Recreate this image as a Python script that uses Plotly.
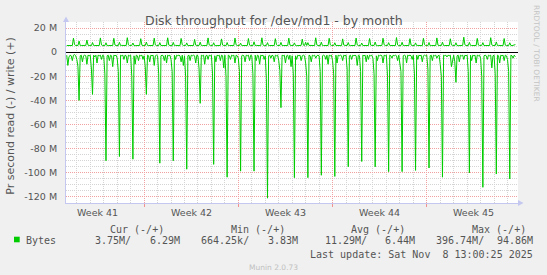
import plotly.graph_objects as go
import pandas as pd

# ---------------- data (values in M = 10^6 bytes per second) ----------------
# 2-hour samples starting 2025-10-06 06:00; each row = one day (06:00 .. 04:00 next day)
read_rows = [
    [-2.5, -11, -4, -2.5, -3, -7, -2.5, -2, -3, -6, -12, -40],
    [-3, -2.5, -8, -3, -2.5, -3, -10, -2.5, -3, -2.5, -14, -35],
    [-2.5, -4, -2.5, -9, -2.5, -3, -2.5, -6, -2.5, -3, -18, -90],
    [-3, -2.5, -7, -2.5, -3, -12, -2.5, -3, -2.5, -5, -16, -86.5],
    [-2.5, -3, -2.5, -6, -2.5, -3, -9, -2.5, -3, -2.5, -20, -88.7],
    [-3, -10, -2.5, -3, -7, -2.5, -3, -2.5, -6, -3, -12, -35],
    [-2.5, -3, -8, -2.5, -3, -2.5, -11, -3, -2.5, -3, -18, -92],
    [-3, -2.5, -3, -7, -2.5, -9, -2.5, -3, -2.5, -6, -16, -90],
    [-2.5, -6, -2.5, -3, -2.5, -3, -8, -2.5, -11, -3, -20, -97],
    [-3, -2.5, -7, -2.5, -3, -2.5, -3, -9, -2.5, -3, -14, -42.4],
    [-2.5, -3, -2.5, -10, -3, -2.5, -6, -2.5, -3, -2.5, -18, -93],
    [-3, -8, -2.5, -3, -2.5, -7, -2.5, -3, -13, -2.5, -20, -103.6],
    [-2.5, -3, -6, -2.5, -3, -2.5, -9, -2.5, -3, -5, -16, -98.6],
    [-3, -2.5, -3, -8, -2.5, -3, -2.5, -7, -2.5, -3, -18, -98.6],
    [-2.5, -7, -2.5, -3, -10, -2.5, -3, -2.5, -6, -3, -22, -121],
    [-3, -2.5, -5, -2.5, -3, -8, -2.5, -3, -2.5, -7, -15, -46],
    [-2.5, -3, -2.5, -9, -3, -2.5, -6, -2.5, -12, -3, -18, -104],
    [-3, -6, -2.5, -3, -2.5, -7, -3, -2.5, -3, -9, -20, -104],
    [-2.5, -3, -8, -2.5, -3, -2.5, -5, -3, -2.5, -3, -16, -102],
    [-3, -2.5, -3, -6, -2.5, -10, -2.5, -3, -2.5, -7, -18, -103],
    [-2.5, -9, -2.5, -3, -2.5, -3, -7, -2.5, -3, -2.5, -14, -95],
    [-3, -2.5, -6, -2.5, -3, -2.5, -3, -11, -2.5, -3, -16, -90.6],
    [-2.5, -3, -2.5, -8, -2.5, -6, -2.5, -3, -2.5, -5, -18, -95],
    [-3, -7, -2.5, -3, -2.5, -3, -9, -2.5, -3, -2.5, -20, -99],
    [-2.5, -3, -5, -2.5, -3, -2.5, -3, -7, -2.5, -8, -16, -99],
    [-3, -2.5, -3, -9, -2.5, -3, -2.5, -3, -6, -2.5, -18, -98],
    [-2.5, -6, -2.5, -3, -2.5, -8, -3, -2.5, -3, -2.5, -14, -96],
    [-3, -2.5, -7, -2.5, -3, -2.5, -5, -3, -2.5, -10, -20, -103.6],
    [-2.5, -3, -2.5, -4, -2.5, -3, -2.5, -12, -6, -2.5, -8, -25],
    [-3, -2.5, -8, -2.5, -3, -2.5, -6, -2.5, -3, -2.5, -16, -100],
    [-2.5, -7, -2.5, -3, -2.5, -9, -2.5, -3, -2.5, -5, -20, -112],
    [-3, -2.5, -3, -6, -2.5, -3, -2.5, -13, -3, -2.5, -18, -101],
    [-2.5, -3, -9, -2.5, -3, -2.5, -7, -2.5, -3, -6, -16, -105],
]
read_tail = [-2.5, -3, -5, -2.5, -3.75]

write_rows = [
    [5.5, 5.4, 5.5, 5.6, 5.5, 5.5, 11.6, 6.2, 5.5, 5.4, 5.5, 9.2],
    [5.6, 5.5, 5.4, 5.5, 5.5, 5.6, 10.0, 5.8, 5.5, 5.5, 5.4, 8.0],
    [5.5, 5.5, 5.6, 5.4, 5.5, 5.5, 11.8, 6.0, 5.5, 5.6, 5.5, 7.8],
    [5.4, 5.5, 5.5, 5.5, 5.6, 5.5, 11.5, 5.9, 5.5, 5.4, 5.5, 8.2],
    [5.5, 5.6, 5.5, 5.4, 5.5, 5.5, 12.0, 6.1, 5.5, 5.5, 5.6, 7.6],
    [5.5, 5.4, 5.5, 5.5, 5.5, 5.6, 11.2, 5.8, 5.4, 5.5, 5.5, 8.4],
    [5.6, 5.5, 5.5, 5.4, 5.5, 5.5, 11.6, 6.0, 5.5, 5.6, 5.5, 7.9],
    [5.5, 5.5, 5.4, 5.5, 5.6, 5.5, 11.9, 5.9, 5.5, 5.5, 5.4, 8.1],
    [5.5, 5.6, 5.5, 5.5, 5.5, 5.4, 11.4, 6.2, 5.5, 5.5, 5.5, 7.7],
    [5.4, 5.5, 5.5, 5.6, 5.5, 5.5, 10.6, 5.8, 5.5, 5.4, 5.6, 8.3],
    [5.5, 5.5, 5.6, 5.5, 5.4, 5.5, 11.8, 6.0, 5.6, 5.5, 5.5, 7.8],
    [5.5, 5.4, 5.5, 5.5, 5.5, 5.6, 11.0, 5.9, 5.5, 5.5, 5.4, 8.0],
    [5.6, 5.5, 5.5, 5.4, 5.5, 5.5, 11.7, 6.1, 5.5, 5.6, 5.5, 7.5],
    [5.5, 5.5, 5.4, 5.5, 5.6, 5.5, 11.3, 5.8, 5.5, 5.5, 5.5, 8.6],
    [5.5, 5.6, 5.5, 5.5, 5.5, 5.4, 11.9, 6.0, 5.4, 5.5, 5.6, 7.9],
    [5.4, 5.5, 5.5, 5.6, 5.5, 5.5, 11.2, 6.2, 5.5, 5.5, 5.5, 8.1],
    [5.5, 5.5, 5.6, 5.5, 5.4, 5.5, 11.6, 5.9, 5.5, 5.6, 5.5, 7.7],
    [5.5, 5.4, 5.5, 5.5, 5.5, 5.6, 10.8, 5.8, 5.5, 8.2, 5.5, 7.9],
    [5.6, 5.5, 5.5, 5.4, 5.5, 5.5, 11.9, 6.0, 5.5, 5.5, 5.4, 8.3],
    [5.5, 5.5, 5.4, 5.5, 5.6, 5.5, 11.5, 6.1, 5.5, 5.5, 5.5, 7.8],
    [5.5, 5.6, 5.5, 5.5, 5.5, 5.4, 11.0, 5.9, 5.6, 5.5, 5.5, 8.0],
    [5.4, 5.5, 5.5, 5.6, 5.5, 5.5, 11.7, 6.0, 5.5, 5.4, 5.5, 7.6],
    [5.5, 5.5, 5.6, 5.5, 5.4, 5.5, 11.3, 5.8, 5.5, 5.5, 5.6, 8.4],
    [5.5, 5.4, 5.5, 5.5, 5.5, 5.6, 11.6, 6.1, 5.5, 5.5, 5.5, 7.9],
    [5.6, 5.5, 5.5, 5.4, 5.5, 5.5, 12.1, 6.0, 5.4, 5.5, 5.5, 8.2],
    [5.5, 5.5, 5.4, 5.5, 5.6, 5.5, 11.2, 5.9, 5.5, 5.6, 5.5, 7.7],
    [5.5, 5.6, 5.5, 5.5, 5.5, 5.4, 11.5, 6.2, 5.5, 5.5, 5.4, 8.0],
    [5.4, 5.5, 5.5, 5.6, 5.5, 5.5, 11.8, 5.8, 5.5, 5.5, 5.5, 8.3],
    [5.5, 5.5, 5.6, 5.5, 5.4, 5.5, 11.1, 6.0, 5.6, 5.5, 5.5, 7.8],
    [5.5, 5.4, 5.5, 5.5, 5.5, 5.6, 12.4, 6.1, 5.5, 5.4, 5.5, 8.1],
    [5.6, 5.5, 5.5, 5.4, 5.5, 5.5, 11.4, 5.9, 5.5, 5.5, 5.6, 7.9],
    [5.5, 5.5, 5.4, 5.5, 5.6, 5.5, 12.0, 6.0, 5.5, 5.5, 5.5, 8.5],
    [5.5, 5.6, 5.5, 5.5, 5.5, 5.4, 11.3, 5.8, 5.5, 5.6, 5.5, 7.8],
]
write_tail = [5.5, 5.4, 5.6, 5.5, 6.29]

series_start = "2025-10-06 06:00"
sample_step = "2h"
x_range = ["2025-10-06 04:42", "2025-11-08 18:40"]

week_starts = ["2025-10-05", "2025-10-12", "2025-10-19", "2025-10-26", "2025-11-02"]
week_labels = ["Week 41", "Week 42", "Week 43", "Week 44", "Week 45"]

y_tick_vals = [20, 0, -20, -40, -60, -80, -100, -120]
y_tick_text = ["20 M", "0", "-20 M", "-40 M", "-60 M", "-80 M", "-100 M", "-120 M"]

title_text = "Disk throughput for /dev/md1 - by month"
y_title = "Pr second read (-) / write (+)"
legend_name = "Bytes"
col_headers = ["Cur (-/+)", "Min (-/+)", "Avg (-/+)", "Max (-/+)"]
read_stats = ["3.75M/", "664.25k/", "11.29M/", "396.74M/"]
write_stats = ["6.29M", "3.83M", "6.44M", "94.86M"]
last_update = "Last update: Sat Nov&nbsp; 8 13:00:25 2025"
footer = "Munin 2.0.73"
watermark = "RRDTOOL / TOBI OETIKER"

# ---------------- build ----------------
read_vals = [v for row in read_rows for v in row] + read_tail
write_vals = [v for row in write_rows for v in row] + write_tail
times = pd.date_range(series_start, periods=len(read_vals), freq=sample_step)

W, H = 547, 275
L, R, T, B = 66, 29, 22, 72
PW, PH = W - L - R, H - T - B


def px(xp):
    return (xp - L) / PW


def py(yp):
    return (H - B - yp) / PH


GREEN = "#00cc00"
AXIS = "#c4c8f0"
TXT = "#555555"
MONO = "DejaVu Sans Mono"
SANS = "DejaVu Sans"

fig = go.Figure()
fig.add_trace(go.Scatter(x=times, y=read_vals, mode="lines",
                         line=dict(color=GREEN, width=1), showlegend=False, hoverinfo="skip"))
fig.add_trace(go.Scatter(x=times, y=write_vals, mode="lines",
                         line=dict(color=GREEN, width=1), showlegend=False, hoverinfo="skip"))

fig.update_layout(
    width=W, height=H,
    margin=dict(l=L, r=R, t=T, b=B, pad=0),
    paper_bgcolor="#f0f0f0", plot_bgcolor="#ffffff",
    showlegend=False,
    font=dict(family=SANS, size=9.5, color=TXT),
)

fig.update_xaxes(
    type="date", range=x_range,
    tick0=week_starts[1], dtick=7 * 86400000,
    showticklabels=False,
    ticks="outside", ticklen=3, tickcolor="#f09090", tickwidth=1,
    showgrid=True, gridcolor="#f0a0a0", griddash="1px,1px", gridwidth=1,
    minor=dict(tick0=week_starts[1], dtick=86400000, showgrid=True,
               gridcolor="#d4d4d4", griddash="1px,1px", gridwidth=1, ticks=""),
    showline=True, linecolor=AXIS, linewidth=1,
    zeroline=False, fixedrange=True,
)
fig.update_yaxes(
    range=[-125, 25],
    tickmode="array", tickvals=y_tick_vals, ticktext=y_tick_text,
    tickfont=dict(family=SANS, size=9.5, color=TXT),
    ticks="", ticklabelstandoff=6,
    showgrid=True, gridcolor="#f0a0a0", griddash="1px,1px", gridwidth=1,
    minor=dict(tickmode="linear", tick0=0, dtick=5, showgrid=True,
               gridcolor="#d4d4d4", griddash="1px,1px", gridwidth=1, ticks=""),
    showline=True, linecolor=AXIS, linewidth=1,
    zeroline=True, zerolinecolor="#000000", zerolinewidth=1,
    fixedrange=True,
)

ann = []


def text(xp, yp, s, size=10, family=MONO, color=TXT, anchor="left", angle=0):
    ann.append(dict(xref="paper", yref="paper", x=px(xp), y=py(yp), text=s,
                    showarrow=False, xanchor=anchor, yanchor="middle",
                    borderpad=0, borderwidth=0, textangle=angle,
                    font=dict(family=family, size=size, color=color)))


# title, axis title, watermark
text(273.5, 20.5, title_text, size=12.5, family=SANS, anchor="center")
text(11, 115.8, y_title, size=11, family=SANS, anchor="center", angle=-90)
text(536.5, 53.5, watermark, size=7.5, family=SANS, color="#c4c4c4", anchor="center", angle=90)

# week labels at middle of each week
for ws, lab in zip(week_starts, week_labels):
    mid = pd.Timestamp(ws) + pd.Timedelta(hours=84)
    ann.append(dict(xref="x", yref="paper", x=mid, y=py(212.8), text=lab, showarrow=False,
                    xanchor="center", yanchor="middle", borderpad=0, borderwidth=0,
                    font=dict(family=SANS, size=9.5, color=TXT)))

# legend block
hdr_right = [164.0, 285.1, 404.7, 526.2]
read_left = [95.3, 201.3, 324.5, 436.1]
write_right = [179.7, 298.3, 415.2, 533.1]
for h, xr in zip(col_headers, hdr_right):
    text(xr, 229.2, h, anchor="right")
text(26.2, 240.3, legend_name)
for s, xl in zip(read_stats, read_left):
    text(xl, 240.3, s)
for s, xr in zip(write_stats, write_right):
    text(xr, 240.3, s, anchor="right")
text(533.1, 254.0, last_update, anchor="right")
text(273.3, 267.0, footer, size=7.5, family=SANS, color="#c0c0c0", anchor="center")
fig.update_layout(annotations=ann)

# legend colour box and axis arrows
shapes = [
    dict(type="rect", xref="paper", yref="paper", x0=px(14), x1=px(19.7), y0=py(242.3), y1=py(236.7),
         fillcolor=GREEN, line=dict(width=0)),
    dict(type="path", xref="paper", yref="paper",
         path=f"M {px(63)},{py(22)} L {px(69)},{py(22)} L {px(66)},{py(16.5)} Z",
         fillcolor=AXIS, line=dict(width=0)),
    dict(type="path", xref="paper", yref="paper",
         path=f"M {px(518)},{py(200)} L {px(518)},{py(206)} L {px(523.5)},{py(203)} Z",
         fillcolor=AXIS, line=dict(width=0)),
]
fig.update_layout(shapes=shapes)

fig.write_html("out.html")
